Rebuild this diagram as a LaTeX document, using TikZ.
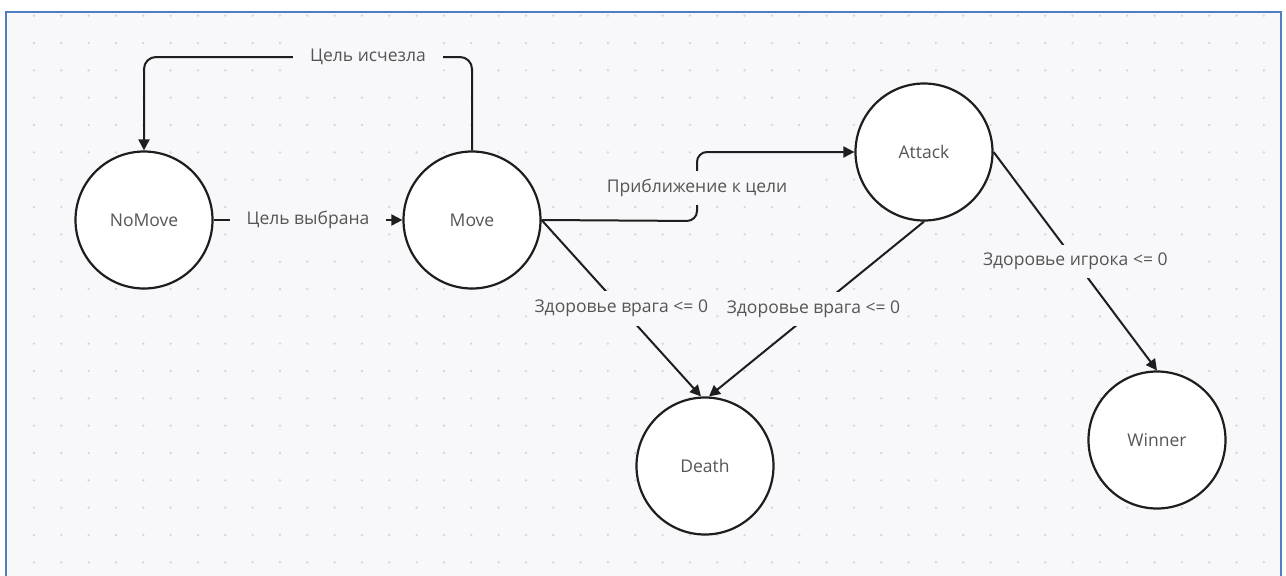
\documentclass[tikz,border=0pt]{standalone}
\usepackage{fontspec}
\setmainfont{Open Sans}
\usepackage{tikz}
\usepackage{xcolor}
\usetikzlibrary{arrows.meta}

\definecolor{bgpaper}{HTML}{F8F8FA}
\definecolor{griddot}{HTML}{D6D6DA}
\definecolor{frameblue}{HTML}{4F7FBE}
\definecolor{txtgray}{HTML}{555555}
\definecolor{linedark}{HTML}{1E1E1E}

\tikzset{
  state/.style={circle,draw=linedark,line width=2.2pt,fill=white,minimum size=137pt,
    inner sep=0pt,text=txtgray,font=\fontsize{17.5}{21}\selectfont},
  trans/.style={draw=linedark,line width=2pt,-{Triangle[length=11pt,width=11pt]}},
  lbl/.style={fill=bgpaper,text=txtgray,inner xsep=17pt,inner ysep=8pt,
    font=\fontsize{17.5}{21}\selectfont},
  slbl/.style={lbl,inner xsep=1pt,inner ysep=9pt}
}

\begin{document}
\begin{tikzpicture}[x=1pt,y=-1pt]
\useasboundingbox (0,0) rectangle (1286,576);
\fill[white] (0,0) rectangle (1286,576);
\fill[bgpaper] (6,12) rectangle (1281,590);
% dotted grid
\foreach \i in {0,...,45}{
  \foreach \j in {0,...,20}{
    \fill[griddot] (34+27.33*\i,15.7+27.33*\j) circle (1.3);
  }
}
\draw[frameblue,line width=2pt] (6,590) -- (6,12) -- (1281,12) -- (1281,590);

% states
\node[state] (nomove) at (144,220) {NoMove};
\node[state] (move) at (472,220) {Move};
\node[state] (attack) at (924,152) {Attack};
\node[state] (death) at (705,466) {Death};
\node[state] (winner) at (1157,440) {Winner};

% transitions
\draw[trans,rounded corners=12pt] (move.north) -- (472,57) -- (144,57) -- (nomove.north);
\node[lbl] (lostlbl) at (368,57) {Цель исчезла};

\draw[trans] (nomove.east) -- (move.west)
  node[lbl,midway] (choselbl) {Цель выбрана};

\draw[trans,rounded corners=10pt] (move.east) -- (697,221) -- (697,152) -- (attack.west);
\node[lbl] (nearlbl) at (697,188) {Приближение к цели};

\draw[trans] (move.east) -- ([xshift=-4pt]death.north)
  node[slbl,midway] (deadalbl) {Здоровье врага <= 0};
\draw[trans] (attack.south) -- ([xshift=4pt]death.north)
  node[slbl,midway,xshift=-3pt] (deadblbl) {Здоровье врага <= 0};

\draw[trans] (attack.east) -- (winner.north)
  node[lbl,midway] (winlbl) {Здоровье игрока <= 0};
\end{tikzpicture}
\end{document}
